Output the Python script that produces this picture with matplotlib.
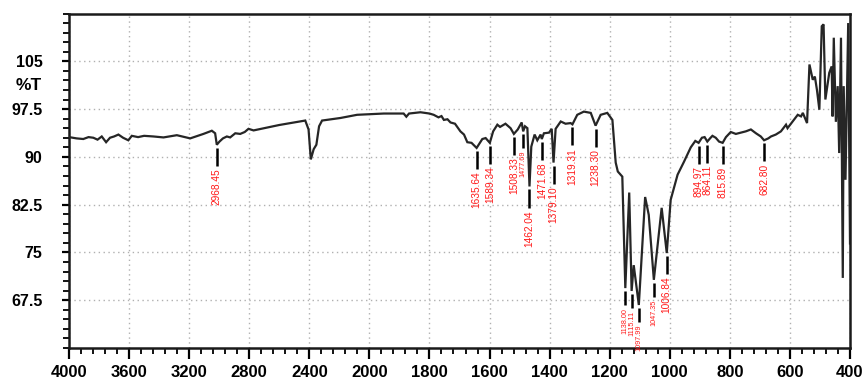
import numpy as np
import matplotlib
matplotlib.use("Agg")
import matplotlib.pyplot as plt
from matplotlib import font_manager as fm
from matplotlib.ticker import FixedLocator, FixedFormatter

# ---------------- data ----------------
wavenumber = [
    4000, 3950, 3905, 3870, 3838, 3810, 3782, 3753, 3727, 3700, 3671, 3640, 3605, 3582,
    3540, 3500, 3438, 3371, 3282, 3193, 3105, 3049, 3027, 3016, 2998, 2975, 2949, 2927,
    2893, 2860, 2830, 2805, 2771, 2600, 2427, 2405, 2390, 2371, 2353, 2335, 2315, 2193,
    2082, 2000,
    1952, 1886, 1877, 1868, 1830, 1800, 1786, 1770, 1760, 1752, 1740, 1730, 1715, 1697,
    1685, 1674, 1660, 1643, 1624, 1613, 1599, 1588, 1574, 1565, 1558, 1547, 1530, 1519,
    1506, 1493, 1488, 1482, 1474, 1467, 1461, 1450, 1441, 1430, 1426, 1419, 1402, 1393,
    1387, 1380, 1363, 1347, 1330, 1324, 1308, 1286, 1263, 1247, 1230, 1208, 1191, 1180,
    1173, 1158, 1148, 1135, 1127, 1120, 1103, 1082, 1070, 1053, 1027, 1010, 997, 974,
    953, 930, 915, 904, 893, 884, 875, 866, 858, 847, 836, 824, 813, 797, 780, 763, 747,
    730, 713, 697, 686, 672, 663, 647, 630, 613, 608, 591, 574, 563, 557, 543, 535, 524,
    517, 510, 502, 494, 488, 482, 469, 461, 458, 454, 447, 441, 436, 430, 424, 421, 415,
    406, 400,
]
transmittance = [
    93.1, 92.9, 92.8, 93.1, 93.0, 92.7, 93.2, 92.3, 93.0, 93.2, 93.5, 93.0, 92.6, 93.3,
    93.1, 93.3, 93.2, 93.05, 93.4, 92.9, 93.6, 94.1, 93.7, 91.9, 92.4, 92.9, 93.2, 93.05,
    93.7, 93.6, 93.9, 94.4, 94.15, 95.0, 95.7, 94.3, 89.6, 91.2, 91.9, 94.8, 95.7, 96.1,
    96.6, 96.7,
    96.8, 96.8, 96.3, 96.8, 97.0, 96.8, 96.6, 96.2, 96.4, 95.8, 95.9, 95.4, 95.2, 94.0,
    93.5, 92.3, 92.2, 91.4, 92.8, 92.95, 92.2, 94.0, 95.05, 94.7, 94.9, 95.2, 94.5, 93.6,
    94.3, 95.4, 94.0, 94.8, 94.5, 85.35, 91.6, 93.5, 92.6, 93.5, 92.8, 93.7, 93.8, 94.4,
    89.1, 94.4, 95.55, 95.2, 95.3, 95.1, 96.6, 97.1, 96.9, 94.9, 96.6, 96.9, 95.8, 89.1,
    87.7, 86.9, 69.4, 84.4, 68.95, 73.0, 66.75, 83.7, 80.9, 70.7, 82.0, 74.9, 83.25, 87.2,
    89.2, 91.5, 92.5, 92.2, 93.0, 93.1, 92.4, 92.9, 93.3, 93.0, 92.4, 92.2, 93.1, 93.9,
    93.6, 93.8, 94.0, 94.3, 93.7, 93.2, 92.6, 92.9, 93.2, 93.5, 94.0, 95.05, 94.5, 95.55,
    96.6, 96.35, 96.9, 95.3, 104.5, 102.1, 102.6, 100.5, 97.4, 110.5, 110.8, 99.0, 103.2,
    104.2, 96.35, 108.7, 95.5, 101.1, 90.6, 108.7, 71.0, 101.1, 86.4, 111.0, 76.4,
]

peak_positions = [3016, 1643, 1599, 1519, 1488, 1467, 1426, 1387, 1324, 1247,
                  1148, 1127, 1103, 1053, 1010, 904, 875, 824, 686]
peak_labels = ["2968.45", "1635.64", "1589.34", "1508.33", "1477.69", "1462.04",
               "1471.68", "1379.10", "1319.31", "1238.30", "1138.00", "1115.11",
               "1097.99", "1047.35", "1006.84", "894.97", "864.11", "815.89", "682.80"]
small_labels = {"1477.69", "1138.00", "1115.11", "1097.99", "1047.35"}

xtick_values = [4000, 3600, 3200, 2800, 2400, 2000, 1800, 1600, 1400, 1200, 1000, 800, 600, 400]
ytick_values = [67.5, 75, 82.5, 90, 97.5, 105]
ytick_labels = ["67.5", "75", "82.5", "90", "97.5", "105"]


# ---------------- helpers ----------------
def has_font(name):
    try:
        fm.findfont(fm.FontProperties(family=name), fallback_to_default=False)
        return True
    except Exception:
        return False


narrow = "Liberation Sans Narrow" if has_font("Liberation Sans Narrow") else None
base_font = "Liberation Sans" if has_font("Liberation Sans") else "DejaVu Sans"
plt.rcParams["font.family"] = [base_font, "DejaVu Sans"]


def fwd(w):
    w = np.asarray(w, dtype=float)
    return np.where(w >= 2000, 2000 + (w - 2000) / 2.0, w)


def inv(u):
    u = np.asarray(u, dtype=float)
    return np.where(u >= 2000, 2000 + (u - 2000) * 2.0, u)


# ---------------- figure ----------------
W, H = 867, 383
fig = plt.figure(figsize=(W / 100, H / 100), dpi=100)
left, right, top, bottom = 69, 850, 13.5, 348
ax = fig.add_axes([left / W, 1 - bottom / H, (right - left) / W, (bottom - top) / H])

ax.set_xscale("function", functions=(fwd, inv))
ax.set_xlim(4000, 400)
ax.set_ylim(60, 112.5)

ax.plot(wavenumber, transmittance, color="#262626", lw=1.6, solid_joinstyle="miter", zorder=3)

# ticks
minor_x = [v for v in np.arange(4000, 2000, -80)] + [v for v in np.arange(2000, 399, -40)]
minor_x = [v for v in minor_x if v not in xtick_values]
ax.xaxis.set_major_locator(FixedLocator(xtick_values))
ax.xaxis.set_major_formatter(FixedFormatter([str(v) for v in xtick_values]))
ax.xaxis.set_minor_locator(FixedLocator(minor_x))
ax.yaxis.set_major_locator(FixedLocator(ytick_values))
ax.yaxis.set_major_formatter(FixedFormatter(ytick_labels))
ax.yaxis.set_minor_locator(FixedLocator(np.arange(60, 112.6, 1.5)))

ax.tick_params(axis="x", which="major", direction="out", length=8, width=1.6, pad=4,
               labelsize=12)
ax.tick_params(axis="x", which="minor", direction="out", length=4, width=1.3)
ax.tick_params(axis="y", which="major", direction="out", length=5, width=1.6, pad=14,
               labelsize=11.5)
ax.tick_params(axis="y", which="minor", direction="out", length=4, width=1.3)
for lab in ax.get_xticklabels() + ax.get_yticklabels():
    lab.set_fontweight("bold")

for sp in ax.spines.values():
    sp.set_linewidth(1.8)
    sp.set_color("#1a1a1a")

ax.grid(True, which="major", color="#b0b0b0", linestyle=(0, (1, 2.5)), linewidth=1.0, zorder=0)

fig.text(29 / W, 1 - 85 / H, "%T", ha="center", va="center", fontsize=12.5, fontweight="bold")

# peak markers
px_per_T = 47.7 / 7.5
wn_inc = np.asarray(wavenumber[::-1], float)
t_inc = np.asarray(transmittance[::-1], float)
for pos, text in zip(peak_positions, peak_labels):
    small = text in small_labels
    t0 = np.interp(pos, wn_inc, t_inc)
    y1 = t0 - 3 / px_per_T
    y2 = y1 - (14 if small else 18) / px_per_T
    ax.plot([pos, pos], [y1, y2], color="black", lw=1.8, solid_capstyle="butt", zorder=4,
            clip_on=False)
    fam = [narrow, "DejaVu Sans"] if narrow else [base_font, "DejaVu Sans"]
    size = (6 if small else 8.5) if narrow else (5.2 if small else 7.3)
    ax.text(pos, y2 - 2.5 / px_per_T, text, rotation=90, ha="center", va="top",
            color="#ff1a1a", fontsize=size, family=fam, zorder=5, clip_on=False)

fig.savefig("out.png", dpi=100)
